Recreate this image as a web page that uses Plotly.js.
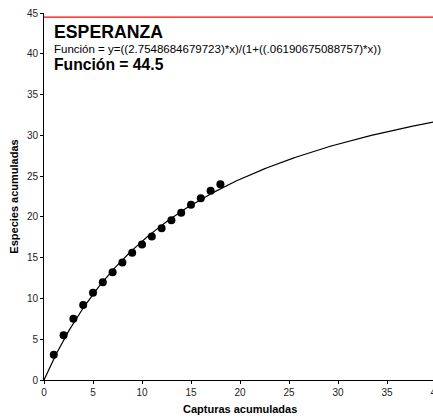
<!DOCTYPE html>
<html>
<head>
<meta charset="utf-8">
<script src="https://cdn.plot.ly/plotly-3.0.1.min.js"></script>
<style>
  html, body { margin: 0; padding: 0; overflow: hidden; background: #fff; }
  #chart { width: 440px; height: 419px; }
</style>
</head>
<body>
<div id="chart"></div>
<script>
// Accumulated captures vs accumulated species (observed)
const capturas = [1, 2, 3, 4, 5, 6, 7, 8, 9, 10, 11, 12, 13, 14, 15, 16, 17, 18];
const especies = [3.1, 5.5, 7.5, 9.2, 10.7, 12.0, 13.2, 14.4, 15.6, 16.6, 17.6, 18.6, 19.6, 20.5, 21.5, 22.3, 23.2, 24.0];

// Fitted Clench model coefficients: y = a*x / (1 + b*x)
const coefA = 2.7548684679723;
const coefB = 0.06190675088757;
// Asymptote (a/b) as stated in the label
const asintota = 44.5;

// Model curve sampled along the x range
const curvaX = [];
const curvaY = [];
for (let i = 0; i <= 400; i++) {
  const x = i / 10;
  curvaX.push(x);
  curvaY.push(coefA * x / (1 + coefB * x));
}

const font = 'Arial, "Liberation Sans", sans-serif';

const traces = [
  {
    x: [0, 40], y: [asintota, asintota],
    mode: 'lines', line: {color: '#ff0000', width: 1.2},
    hoverinfo: 'skip', cliponaxis: false
  },
  {
    x: curvaX, y: curvaY,
    mode: 'lines', line: {color: '#000', width: 1.2}
  },
  {
    x: capturas, y: especies,
    mode: 'markers', marker: {color: '#000', size: 8}
  }
];

const axisCommon = {
  showgrid: false, zeroline: false, showline: true,
  linecolor: '#000', linewidth: 1,
  ticks: 'outside', ticklen: 3, tickcolor: '#000', tickwidth: 1,
  tickfont: {family: font, size: 10, color: '#222'},
  ticklabeloverflow: 'allow',
  mirror: false
};

const layout = {
  width: 440, height: 419,
  margin: {l: 44, r: 4, t: 13, b: 39},
  paper_bgcolor: '#fff', plot_bgcolor: '#fff',
  showlegend: false,
  xaxis: Object.assign({}, axisCommon, {
    range: [0, 40], dtick: 5, tick0: 0
  }),
  yaxis: Object.assign({}, axisCommon, {
    range: [0, 45], dtick: 5, tick0: 0,
    title: {text: 'Especies acumuladas', font: {family: font, size: 11, color: '#000', weight: 'bold'}, standoff: 6}
  }),
  annotations: [
    {
      xref: 'paper', yref: 'paper', x: 0.5, y: 0, yshift: -29,
      xanchor: 'center', yanchor: 'middle',
      text: '<b>Capturas acumuladas</b>', showarrow: false,
      font: {family: font, size: 11, color: '#000'}
    },
    {
      xref: 'x', yref: 'y', x: 0.8, y: 42.7, xanchor: 'left', yanchor: 'middle',
      text: '<b>ESPERANZA</b>', showarrow: false,
      font: {family: font, size: 17.7, color: '#000'}
    },
    {
      xref: 'x', yref: 'y', x: 0.8, y: 40.55, xanchor: 'left', yanchor: 'middle',
      text: 'Función = y=((' + coefA + ')*x)/(1+((' + String(coefB).replace(/^0/, '') + ')*x))',
      showarrow: false,
      font: {family: font, size: 11.5, color: '#000'}
    },
    {
      xref: 'x', yref: 'y', x: 0.8, y: 38.7, xanchor: 'left', yanchor: 'middle',
      text: '<b>Función = ' + asintota + '</b>', showarrow: false,
      font: {family: font, size: 15.7, color: '#000'}
    }
  ]
};

Plotly.newPlot('chart', traces, layout, {displayModeBar: false, staticPlot: true});
</script>
</body>
</html>
